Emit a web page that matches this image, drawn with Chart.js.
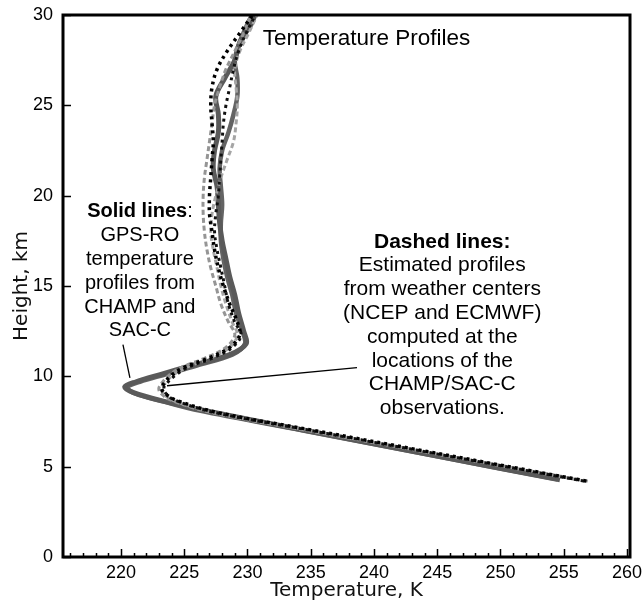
<!DOCTYPE html>
<html>
<head>
<meta charset="utf-8">
<script src="https://cdn.jsdelivr.net/npm/chart.js@4.4.1/dist/chart.umd.min.js"></script>
<style>
  html, body { margin: 0; padding: 0; background: #fff; }
</style>
</head>
<body>
<canvas id="chart" width="644" height="605"></canvas>
<script>
// GPS-RO profiles (solid)
const champHeight = [4.27, 5.5, 7.0, 8.15, 8.6, 9.1, 9.42, 9.7, 10.1, 10.6, 11.2, 11.8, 12.5, 13.5, 14.5, 15.5, 16.5, 17.5, 18.5, 19.5, 20.5, 21.5, 22.5, 23.5, 24.5, 25.5, 26.5, 27.5, 28.5, 29.5, 30.2];
const champTemp   = [254.7, 245.6, 234.6, 226.3, 223.5, 221.0, 220.3, 221.2, 223.1, 225.6, 228.6, 229.9, 229.7, 229.3, 229.0, 228.6, 228.3, 228.0, 227.8, 227.7, 227.6, 227.3, 227.4, 227.7, 227.7, 227.5, 228.2, 229.0, 229.4, 230.3, 230.7];
const sacHeight   = [4.3, 5.5, 7.0, 8.1, 8.6, 9.05, 9.38, 9.7, 10.1, 10.6, 11.2, 11.8, 12.5, 13.5, 14.5, 15.5, 16.5, 17.5, 18.5, 19.5, 20.5, 21.5, 22.5, 23.5, 24.5, 25.5, 26.5, 27.5, 28.5, 29.5, 30.2];
const sacTemp     = [254.5, 245.5, 234.4, 226.2, 223.4, 221.1, 220.5, 221.5, 223.5, 226.0, 228.8, 229.8, 229.6, 229.1, 228.8, 228.4, 228.1, 227.9, 227.9, 228.0, 227.9, 227.8, 228.0, 228.5, 228.9, 229.2, 229.2, 229.0, 229.4, 230.0, 230.5];

// weather-centre estimates (dashed)
const ncepChampHeight  = [4.2, 7.0, 8.0, 8.7, 9.1, 9.38, 9.6, 10.0, 10.5, 11.0, 11.6, 12.3, 13, 14, 15, 16, 17, 18, 19, 20, 21, 22, 23, 24, 25, 26, 27, 28, 29, 30.2];
const ncepChampTemp    = [256.8, 235.3, 227.6, 224.3, 223.4, 223.2, 223.4, 223.9, 225.0, 226.9, 228.6, 229.4, 229.2, 228.6, 228.1, 227.7, 227.4, 227.2, 227.0, 227.0, 227.1, 227.2, 227.3, 227.2, 227.1, 227.2, 227.6, 228.4, 229.4, 230.6];
const ncepSacHeight    = [4.2, 7.0, 8.0, 8.7, 9.1, 9.4, 9.6, 10.0, 10.5, 11.0, 11.6, 12.3, 13, 14, 15, 16, 17, 18, 19, 20, 21, 22, 23, 24, 25, 26, 27, 28, 29, 30.2];
const ncepSacTemp      = [256.6, 235.0, 227.4, 224.2, 223.5, 223.4, 223.6, 224.2, 225.3, 227.2, 228.8, 229.5, 229.0, 228.5, 228.2, 227.9, 227.6, 227.4, 227.5, 227.7, 227.8, 227.9, 228.0, 228.1, 228.3, 228.6, 228.9, 229.3, 229.9, 230.8];
const ecmwfChampHeight = [4.2, 7.0, 8.0, 8.7, 9.1, 9.35, 9.6, 10.0, 10.5, 11.0, 11.6, 12.3, 13, 14, 15, 16, 17, 18, 19, 20, 21, 22, 23, 24, 25, 26, 27, 28, 29, 30.2];
const ecmwfChampTemp   = [256.9, 234.7, 227.1, 223.9, 223.1, 223.0, 223.2, 223.7, 224.8, 226.6, 228.3, 229.0, 228.5, 227.9, 227.5, 227.1, 226.8, 226.6, 226.5, 226.5, 226.6, 226.8, 227.0, 227.2, 227.4, 227.8, 228.3, 229.0, 229.7, 230.4];
const ecmwfSacHeight   = [4.2, 7.0, 8.0, 8.7, 9.1, 9.4, 9.6, 10.0, 10.5, 11.0, 11.6, 12.3, 13, 14, 15, 16, 17, 18, 19, 20, 21, 22, 23, 24, 25, 26, 27, 28, 29, 30.2];
const ecmwfSacTemp     = [256.7, 234.9, 227.3, 224.0, 223.3, 223.2, 223.5, 224.0, 225.2, 227.0, 228.6, 229.2, 228.8, 228.3, 227.9, 227.6, 227.3, 227.1, 227.2, 227.5, 227.9, 228.4, 228.9, 229.1, 229.2, 229.1, 229.0, 229.4, 230.1, 230.9];

// axes
const tempMin = 215.42, tempMax = 260.24;
const heightMin = 0, heightMax = 30;

// annotation text and leader lines (temperature, height)
const plotTitle = 'Temperature Profiles';
const solidNote = ['GPS-RO', 'temperature', 'profiles from', 'CHAMP and', 'SAC-C'];
const dashedNote = ['Estimated profiles', 'from weather centers', '(NCEP and ECMWF)', 'computed at the', 'locations of the', 'CHAMP/SAC-C', 'observations.'];
const solidPointer = [[220.16, 11.75], [220.71, 9.92]];
const dashedPointer = [[238.66, 10.48], [223.64, 9.48]];

const pts = (t, h) => t.map((v, i) => ({ x: v, y: h[i] }));

function profile(t, h, color, width, dash, order) {
  return {
    data: pts(t, h),
    showLine: true,
    borderColor: color,
    borderWidth: width,
    borderDash: dash,
    borderCapStyle: 'butt',
    pointRadius: 0,
    tension: 0.35,
    fill: false,
    order: order
  };
}

const textFont = '"Liberation Sans", Arial, sans-serif';
const titleFont = '"DejaVu Sans", sans-serif';

const decorations = {
  id: 'decorations',
  afterDatasetsDraw(chart) {
    const { ctx, chartArea: a, scales: { x, y } } = chart;
    ctx.save();

    // inward tick marks
    ctx.strokeStyle = '#000';
    ctx.lineWidth = 1.5;
    ctx.beginPath();
    for (let t = Math.ceil(tempMin); t <= Math.floor(tempMax); t++) {
      const px = Math.round(x.getPixelForValue(t)) + 0.5;
      const len = t % 5 === 0 ? 8 : 4;
      ctx.moveTo(px, a.bottom);
      ctx.lineTo(px, a.bottom - len);
    }
    for (let h = heightMin; h <= heightMax; h += 5) {
      const py = Math.round(y.getPixelForValue(h)) + 0.5;
      ctx.moveTo(a.left, py);
      ctx.lineTo(a.left + 8, py);
    }
    ctx.stroke();

    // frame
    ctx.lineWidth = 3;
    ctx.strokeRect(a.left, a.top, a.right - a.left, a.bottom - a.top);

    // leader lines
    ctx.lineWidth = 1.3;
    for (const seg of [solidPointer, dashedPointer]) {
      ctx.beginPath();
      ctx.moveTo(x.getPixelForValue(seg[0][0]), y.getPixelForValue(seg[0][1]));
      ctx.lineTo(x.getPixelForValue(seg[1][0]), y.getPixelForValue(seg[1][1]));
      ctx.stroke();
    }

    // text
    const lh = 23.8;
    ctx.fillStyle = '#000';
    ctx.textBaseline = 'middle';

    ctx.font = `22.5px ${textFont}`;
    ctx.textAlign = 'left';
    ctx.fillText(plotTitle, x.getPixelForValue(231.2), y.getPixelForValue(28.66));

    // "Solid lines:" block
    let size = 20;
    let cx = x.getPixelForValue(221.5), cy = y.getPixelForValue(19.1);
    ctx.font = `bold ${size}px ${textFont}`;
    const wb = ctx.measureText('Solid lines').width;
    ctx.font = `${size}px ${textFont}`;
    const wc = ctx.measureText(':').width;
    const sx = cx - (wb + wc) / 2;
    ctx.font = `bold ${size}px ${textFont}`;
    ctx.fillText('Solid lines', sx, cy);
    ctx.font = `${size}px ${textFont}`;
    ctx.fillText(':', sx + wb, cy);
    ctx.textAlign = 'center';
    solidNote.forEach((s, i) => ctx.fillText(s, cx, cy + lh * (i + 1)));

    // "Dashed lines:" block
    size = 21;
    cx = x.getPixelForValue(245.4);
    cy = y.getPixelForValue(17.45);
    ctx.font = `bold ${size}px ${textFont}`;
    ctx.fillText('Dashed lines:', cx, cy);
    ctx.font = `${size}px ${textFont}`;
    dashedNote.forEach((s, i) => ctx.fillText(s, cx, cy + lh * (i + 1)));

    ctx.restore();
  }
};

new Chart(document.getElementById('chart'), {
  type: 'scatter',
  data: {
    datasets: [
      profile(champTemp, champHeight, '#5a5a5a', 5, [], 2),
      profile(sacTemp, sacHeight, '#646464', 4.5, [], 2),
      profile(ecmwfChampTemp, ecmwfChampHeight, '#959595', 3, [5, 3], 1),
      profile(ecmwfSacTemp, ecmwfSacHeight, '#a5a5a5', 3, [5, 3], 1),
      profile(ncepChampTemp, ncepChampHeight, '#000000', 3.5, [3, 4], 0),
      profile(ncepSacTemp, ncepSacHeight, '#111111', 3, [3, 4], 0)
    ]
  },
  options: {
    responsive: false,
    animation: false,
    layout: { padding: { top: 15, right: 14, left: 0, bottom: 0 } },
    plugins: {
      legend: { display: false },
      tooltip: { enabled: false }
    },
    scales: {
      x: {
        type: 'linear',
        min: tempMin,
        max: tempMax,
        grid: { display: false, drawTicks: false },
        border: { display: false },
        ticks: {
          stepSize: 5,
          includeBounds: false,
          maxRotation: 0,
          autoSkip: false,
          padding: 5,
          color: '#000',
          font: { family: textFont, size: 18 }
        },
        title: {
          display: true,
          text: 'Temperature, K',
          color: '#111',
          font: { family: titleFont, size: 20 },
          padding: { top: 0, bottom: 2 }
        },
        afterFit(scale) {
          scale.height = 48;
          scale.paddingLeft = 0;
          scale.paddingRight = 0;
        }
      },
      y: {
        type: 'linear',
        min: heightMin,
        max: heightMax,
        grid: { display: false, drawTicks: false },
        border: { display: false },
        ticks: {
          stepSize: 5,
          padding: 10,
          color: '#000',
          font: { family: textFont, size: 18 }
        },
        title: {
          display: true,
          text: 'Height, km',
          color: '#111',
          font: { family: titleFont, size: 20 },
          padding: { top: 10, bottom: 0 }
        },
        afterFit(scale) {
          scale.width = 63;
          scale.paddingTop = 0;
          scale.paddingBottom = 0;
        }
      }
    }
  },
  plugins: [decorations]
});
</script>
</body>
</html>
